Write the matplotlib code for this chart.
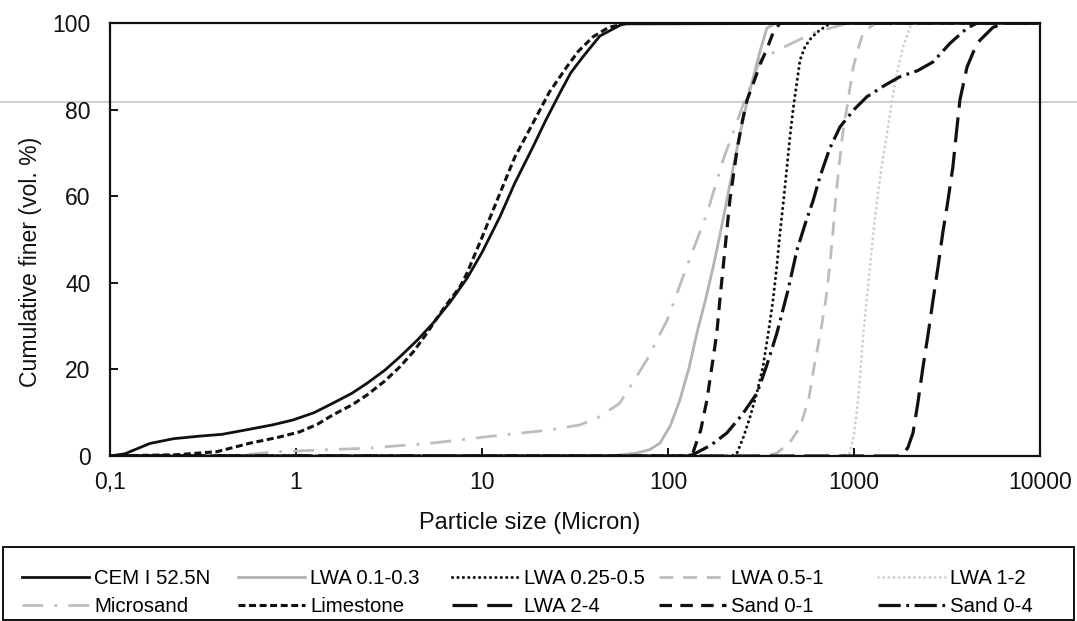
import matplotlib
matplotlib.use("Agg")
import matplotlib.pyplot as plt
from matplotlib.lines import Line2D
from matplotlib.patches import Rectangle

plt.rcParams['font.family'] = ['Liberation Sans', 'DejaVu Sans']
plt.rcParams['lines.scale_dashes'] = False

# ---- data (particle size in micron, cumulative finer in vol. %) ----
cem_x = [0.1, 0.12, 0.164, 0.22, 0.305, 0.4, 0.566, 0.75, 0.96, 1.25, 1.58, 2.0, 2.41, 3.0, 3.62, 4.5,
         5.46, 6.73, 8.3, 10, 12.5, 15, 18.8, 22, 26.2, 30, 34.9, 43, 57, 10000]
cem_y = [0, 0.5, 2.9, 4.0, 4.6, 5.0, 6.2, 7.2, 8.3, 10.0, 12.2, 14.5, 16.8, 19.8, 22.9, 26.8,
         30.7, 35.5, 41, 47, 55.3, 63, 71.4, 77.5, 83.8, 88.5, 92.2, 97, 99.8, 100]

lime_x = [0.1, 0.23, 0.376, 0.57, 0.8, 1.05, 1.3, 1.58, 2.0, 2.41, 3.0, 3.62, 4.3, 5.06, 6.2, 7.62,
          8.3, 10, 12.5, 15, 18.8, 23, 28.6, 33, 39.5, 48, 60, 10000]
lime_y = [0, 0.3, 1.0, 3.0, 4.3, 5.6, 7.3, 9.5, 11.8, 14.1, 17.3, 20.6, 24.2, 28.4, 34, 39.1,
          42.2, 50.5, 60.7, 69, 76.9, 84, 89.9, 93.5, 96.8, 99, 99.9, 100]

micro_x = [0.1, 0.5, 0.8, 1.2, 2.41, 5.46, 12.5, 23.2, 33.7, 43, 55, 77, 99, 126, 162, 198, 244,
           313, 400, 603, 900, 10000]
micro_y = [0, 0.2, 1.0, 1.3, 1.8, 3.0, 4.8, 6.0, 7.2, 9.1, 12.2, 22.2, 31.4, 43.7, 56, 68.4, 79.2,
           91.5, 94.0, 97.7, 99.8, 100]

lwa0103_x = [0.1, 50, 68, 80, 90.6, 103, 116, 130, 143, 160, 175, 190, 207, 225, 244, 265, 288,
             315, 340, 380, 10000]
lwa0103_y = [0, 0, 0.7, 1.5, 3, 7, 13, 20.5, 28.4, 36.5, 43.7, 51, 59, 67, 74.5, 81.5, 87.6,
             94, 98.8, 100, 100]

sand01_x = [0.1, 125, 136, 150, 162, 172, 183, 190, 198, 206, 215, 225, 235, 250, 266, 290, 313,
            340, 367, 400, 10000]
sand01_y = [0, 0, 0.7, 6, 13, 20.5, 28.4, 36, 43.7, 51, 59, 65, 70.7, 77, 82.2, 86.5, 90.5,
            94, 97.7, 100, 100]

lwa02505_x = [0.1, 220, 235, 255, 276, 300, 324, 345, 367, 385, 400, 418, 436, 452, 470, 490, 513,
              545, 580, 630, 680, 750, 10000]
lwa02505_y = [0, 0, 0.7, 4.5, 9, 14.5, 20.6, 28, 36, 44, 51.5, 59, 66.7, 73.5, 79.9, 85.5, 91.5,
              94.5, 96.2, 97.8, 98.8, 100, 100]

sand04_x = [0.1, 125, 136, 170, 207, 250, 301, 340, 385, 440, 494, 550, 603, 656, 740, 841, 1000,
            1175, 1450, 1766, 2200, 2660, 3280, 4050, 4600, 10000]
sand04_y = [0, 0, 0.3, 2.5, 5.3, 9.5, 14.5, 21, 28.4, 38, 47.6, 54, 59, 64.5, 71, 76, 80,
            83, 85.5, 87.6, 89, 91, 95.3, 98.8, 100, 100]

lwa051_x = [0.1, 330, 385, 450, 513, 570, 610, 660, 705, 740, 770, 795, 830, 870, 930, 990, 1060,
            1120, 1300, 10000]
lwa051_y = [0, 0, 0.7, 3, 6.7, 13, 20.6, 28.4, 36, 43.7, 51.5, 59, 66.7, 74.5, 82.2, 89.8, 94.5,
            97.7, 100, 100]

lwa12_x = [0.1, 850, 950, 1000, 1052, 1090, 1123, 1170, 1219, 1270, 1330, 1410, 1504, 1600, 1703,
           1836, 2000, 2150, 10000]
lwa12_y = [0, 0, 0.7, 5, 13, 21, 28.4, 36, 43.7, 51.5, 59, 67, 74.5, 82, 88.4,
           94.5, 99.1, 100, 100]

lwa24_x = [0.1, 1700, 1836, 1950, 2075, 2200, 2350, 2500, 2660, 2830, 3000, 3200, 3400, 3550, 3710,
           4050, 4400, 4750, 5590, 6500, 10000]
lwa24_y = [0, 0, 0.3, 2, 5.3, 12, 20.6, 28, 36, 43.7, 51.5, 59, 66.7, 74.5, 82.2,
           89.8, 93.5, 96, 99, 100, 100]

xticks = [0.1, 1, 10, 100, 1000, 10000]
xticklabels = ['0,1', '1', '10', '100', '1000', '10000']
yticks = [0, 20, 40, 60, 80, 100]

BLACK = '#111111'
GRAY = '#b3b3b3'
GRAY2 = '#bdbdbd'
LGRAY = '#cdcdcd'

W, H = 1077, 621
fig = plt.figure(figsize=(W / 100, H / 100), dpi=100)
ax = fig.add_axes([110 / W, 1 - 456 / H, 930 / W, 433 / H])
ax.set_facecolor('none')

# scan artefact line spanning the page
fig.add_artist(Line2D([0, 1], [1 - 101.7 / H] * 2, transform=fig.transFigure,
                      color='#cfcfcf', lw=1.4, zorder=-1))

h = {}
h['Microsand'], = ax.plot(micro_x, micro_y, color=GRAY2, lw=2.0, dashes=(15, 8, 2, 8))
h['LWA 0.1-0.3'], = ax.plot(lwa0103_x, lwa0103_y, color=GRAY, lw=2.0)
h['LWA 0.5-1'], = ax.plot(lwa051_x, lwa051_y, color=GRAY2, lw=2.0, dashes=(10, 7))
h['LWA 1-2'], = ax.plot(lwa12_x, lwa12_y, color=LGRAY, lw=2.0, dashes=(0.1, 3.6),
                        dash_capstyle='round')
h['CEM I 52.5N'], = ax.plot(cem_x, cem_y, color=BLACK, lw=2.0)
h['Limestone'], = ax.plot(lime_x, lime_y, color=BLACK, lw=2.2, dashes=(5, 2.6))
h['LWA 0.25-0.5'], = ax.plot(lwa02505_x, lwa02505_y, color=BLACK, lw=2.2, dashes=(0.1, 3.8),
                             dash_capstyle='round')
h['Sand 0-1'], = ax.plot(sand01_x, sand01_y, color=BLACK, lw=2.3, dashes=(9, 6))
h['Sand 0-4'], = ax.plot(sand04_x, sand04_y, color=BLACK, lw=2.3, dashes=(16, 4, 2, 4))
h['LWA 2-4'], = ax.plot(lwa24_x, lwa24_y, color=BLACK, lw=2.3, dashes=(18, 7))

ax.set_xscale('log')
ax.set_xlim(0.1, 10000)
ax.set_ylim(0, 100)
ax.set_xticks(xticks)
ax.set_xticklabels(xticklabels)
ax.set_yticks(yticks)
ax.minorticks_off()
ax.tick_params(axis='both', direction='in', length=6, width=1.4, labelsize=16.5, colors=BLACK)
ax.tick_params(axis='x', pad=11)
ax.tick_params(axis='y', pad=14)
for s in ax.spines.values():
    s.set_linewidth(1.6)
    s.set_color(BLACK)

ax.set_xlabel('Particle size (Micron)', fontsize=17, color=BLACK)
ax.set_ylabel('Cumulative finer (vol. %)', fontsize=16.6, color=BLACK)
ax.xaxis.set_label_coords((530 - 110) / 930, (456 - 512) / 433)
ax.yaxis.set_label_coords((42 - 110) / 930, (456 - 262) / 433)

# legend: outer frame + one legend per column
fig.add_artist(Rectangle((3 / W, 1 - 620 / H), 1071 / W, 73 / H, transform=fig.transFigure,
                         fill=False, edgecolor=BLACK, lw=1.4))
columns = [('CEM I 52.5N', 'Microsand'), ('LWA 0.1-0.3', 'Limestone'),
           ('LWA 0.25-0.5', 'LWA 2-4'), ('LWA 0.5-1', 'Sand 0-1'), ('LWA 1-2', 'Sand 0-4')]
col_x = [22, 238, 452, 659, 878]
for cx, names in zip(col_x, columns):
    fig.legend([h[k] for k in names], list(names), loc='upper left',
               bbox_to_anchor=(cx / W, 1 - 569 / H), borderaxespad=0, borderpad=0,
               fontsize=14.7, handlelength=3.3, handletextpad=0.25, labelspacing=0.45,
               frameon=False)

fig.savefig('out.png', dpi=100)
